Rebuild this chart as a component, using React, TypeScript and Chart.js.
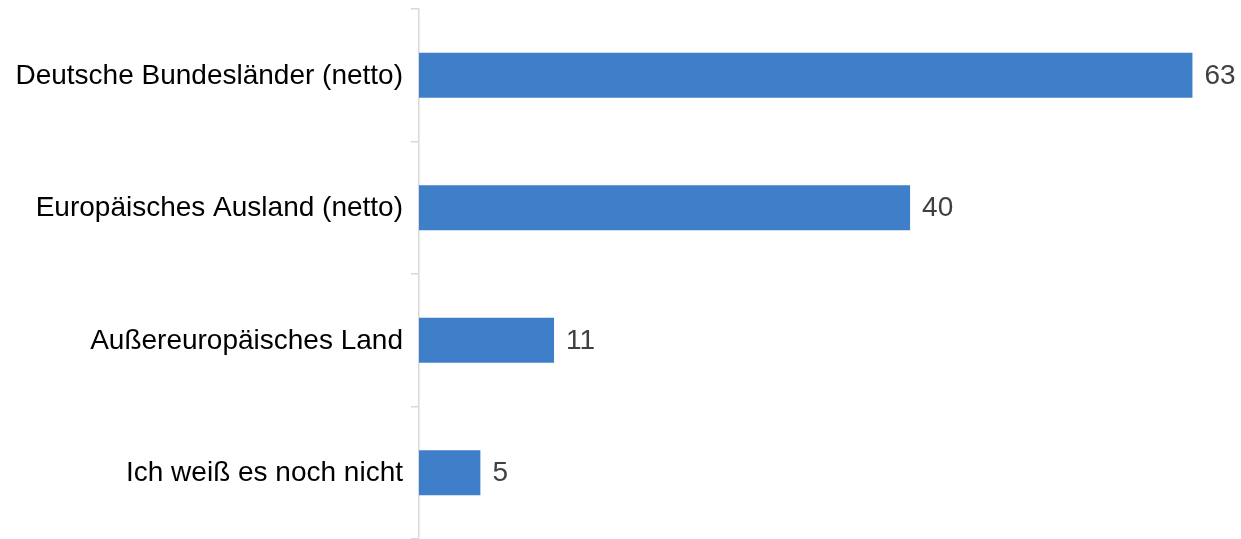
import React, { useEffect, useRef } from "react";
import { Chart, registerables } from "chart.js";

Chart.register(...registerables);

const categories = [
  "Deutsche Bundesländer (netto)",
  "Europäisches Ausland (netto)",
  "Außereuropäisches Land",
  "Ich weiß es noch nicht",
];
const values = [63, 40, 11, 5];

const FONT = "'Liberation Sans', Arial, sans-serif";

const valueLabels = {
  id: "valueLabels",
  afterDatasetsDraw(chart: any) {
    const ctx = chart.ctx;
    const meta = chart.getDatasetMeta(0);
    ctx.save();
    ctx.font = `28px ${FONT}`;
    ctx.fillStyle = "#404040";
    ctx.textAlign = "left";
    ctx.textBaseline = "middle";
    meta.data.forEach((bar: any, i: number) => {
      ctx.fillText(String(values[i]), bar.x + 12, bar.y + 1);
    });
    ctx.restore();
  },
};

export default function App() {
  const ref = useRef<HTMLCanvasElement>(null);
  useEffect(() => {
    const chart = new Chart(ref.current!, {
      type: "bar",
      data: {
        labels: categories,
        datasets: [
          {
            data: values,
            backgroundColor: "#3F7FCA",
            barPercentage: 0.34,
            categoryPercentage: 1,
          },
        ],
      },
      options: {
        indexAxis: "y",
        animation: false,
        responsive: false,
        maintainAspectRatio: false,
        layout: { padding: { top: 9, right: 24, bottom: 0, left: 0 } },
        plugins: { legend: { display: false }, tooltip: { enabled: false } },
        scales: {
          x: { display: false, min: 0, max: 65 },
          y: {
            afterFit(scale: any) {
              scale.width = 419;
              scale.paddingTop = 0;
              scale.paddingBottom = 0;
            },
            border: { display: true, color: "#d9d9d9", width: 1.5 },
            grid: {
              display: true,
              offset: true,
              drawOnChartArea: false,
              drawTicks: true,
              tickLength: 8,
              color: "#d9d9d9",
              lineWidth: 1.5,
            },
            ticks: {
              color: "#000000",
              padding: 8,
              labelOffset: 1,
              font: { family: FONT, size: 28 },
            },
          },
        },
      },
      plugins: [valueLabels],
    });
    return () => chart.destroy();
  }, []);
  return (
    <div style={{ position: "fixed", left: 0, top: 0, width: 1241, height: 539, background: "#fff" }}>
      <canvas ref={ref} width={1241} height={539} style={{ width: 1241, height: 539 }} />
    </div>
  );
}
